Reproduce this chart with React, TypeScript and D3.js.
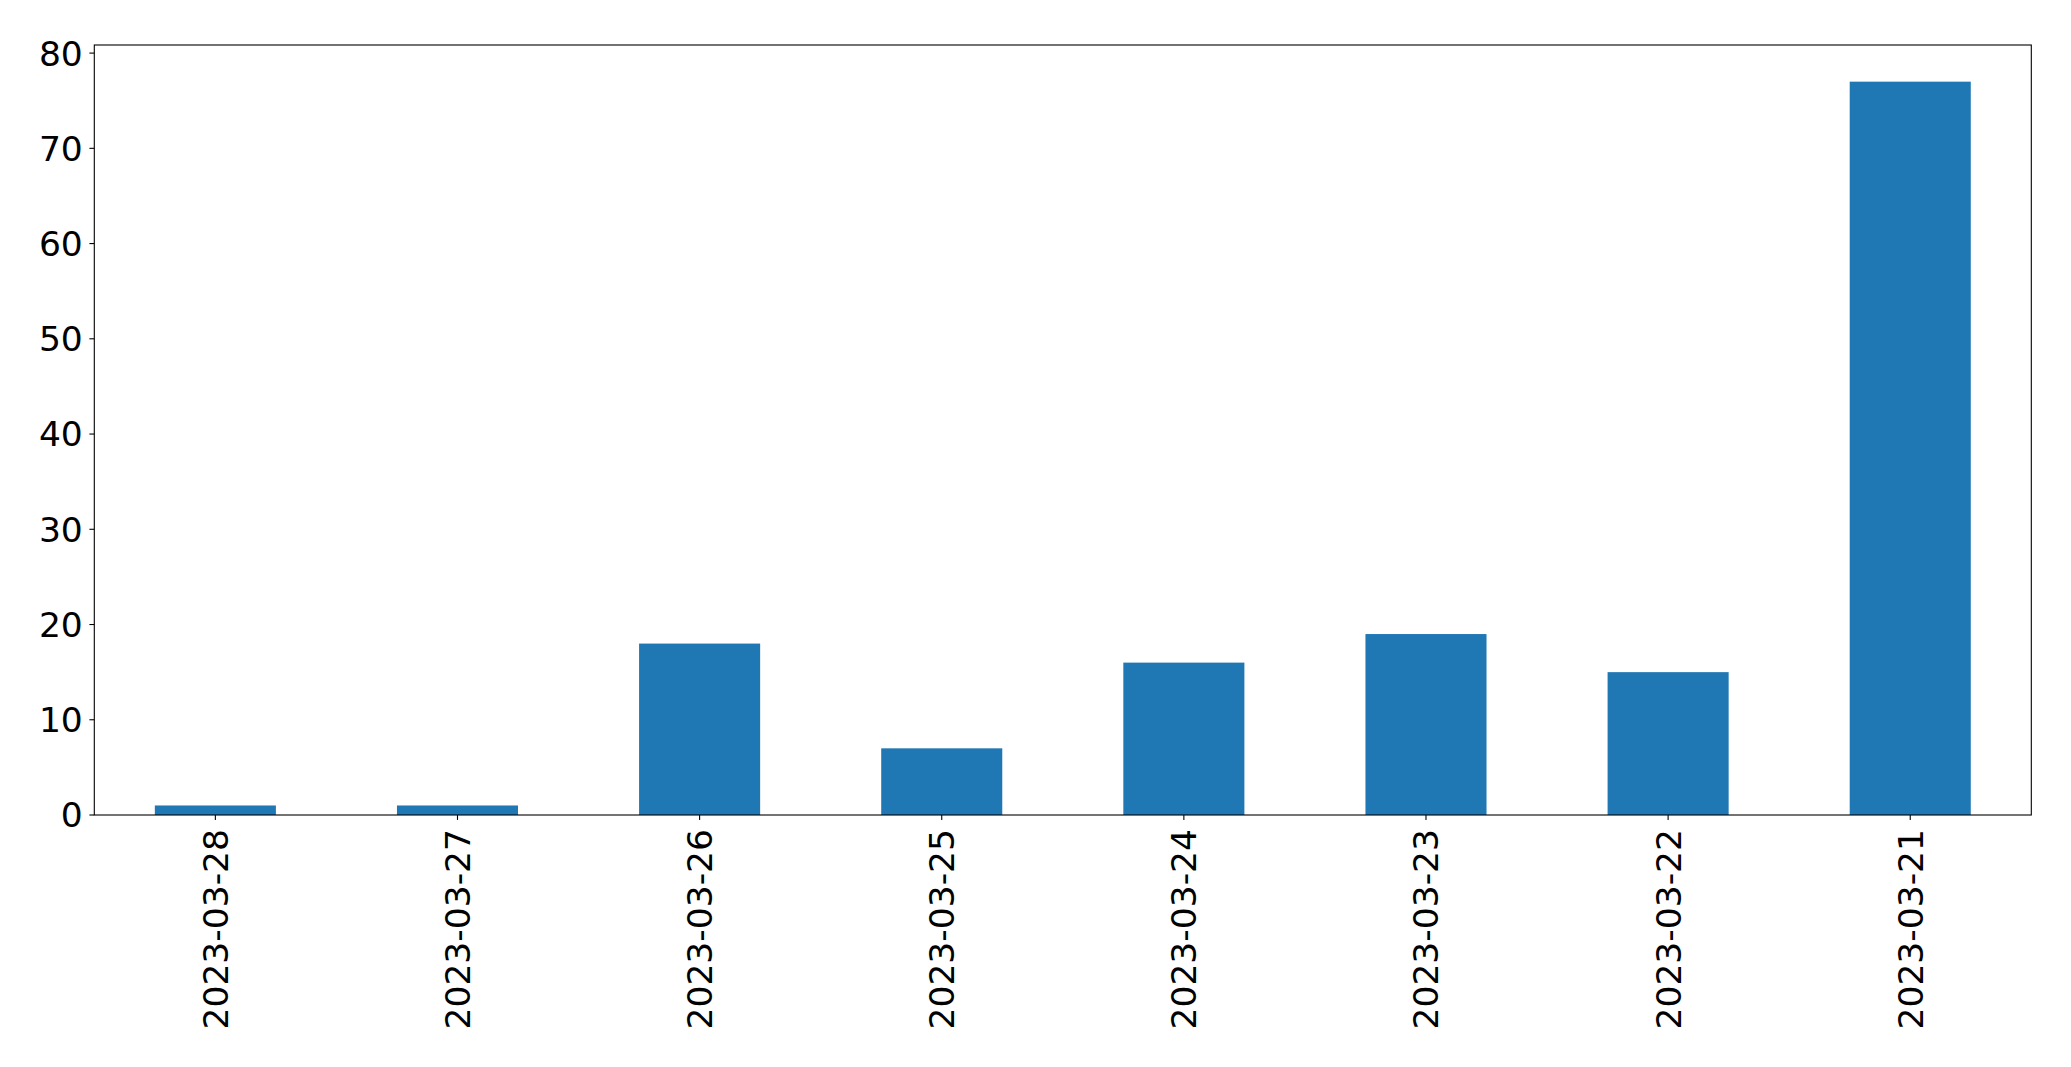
import React from "react";
import * as d3 from "d3";

const categories = ["2023-03-28", "2023-03-27", "2023-03-26", "2023-03-25", "2023-03-24", "2023-03-23", "2023-03-22", "2023-03-21"];
const values = [1, 1, 18, 7, 16, 19, 15, 77];
const yTicks = [0, 10, 20, 30, 40, 50, 60, 70, 80];

const W = 2071;
const H = 1067;
const left = 94.3;
const right = 2031.3;
const top = 45;
const bottom = 815;
const fontSize = 34.5;
const font = "DejaVu Sans";

export default function App() {
  const x = d3.scaleLinear().domain([-0.5, categories.length - 0.5]).range([left, right]);
  const ymax = d3.max(values)! * 1.05;
  const y = d3.scaleLinear().domain([0, ymax]).range([bottom, top]);
  const bw = x(0.25) - x(-0.25);
  return (
    <svg width={W} height={H} style={{ position: "fixed", left: 0, top: 0, background: "#fff" }} fontFamily={font}>
      <rect x={0} y={0} width={W} height={H} fill="#fff" />
      {values.map((v, i) => (
        <rect key={i} x={x(i) - bw / 2} y={y(v)} width={bw} height={y(0) - y(v)} fill="#1f77b4" />
      ))}
      <rect x={left} y={top} width={right - left} height={bottom - top} fill="none" stroke="#000" strokeWidth={1.1} />
      {yTicks.map((t) => (
        <g key={t}>
          <line x1={left - 4.9} x2={left} y1={y(t)} y2={y(t)} stroke="#000" strokeWidth={1.1} />
          <text x={left - 11.5} y={y(t)} dy="0.36em" textAnchor="end" fontSize={fontSize} fill="#000">{t}</text>
        </g>
      ))}
      {categories.map((c, i) => (
        <g key={c}>
          <line x1={x(i)} x2={x(i)} y1={bottom} y2={bottom + 4.9} stroke="#000" strokeWidth={1.1} />
          <text transform={`translate(${x(i)},${bottom + 14}) rotate(-90)`} dy="0.36em" textAnchor="end" fontSize={fontSize} fill="#000">{c}</text>
        </g>
      ))}
    </svg>
  );
}
